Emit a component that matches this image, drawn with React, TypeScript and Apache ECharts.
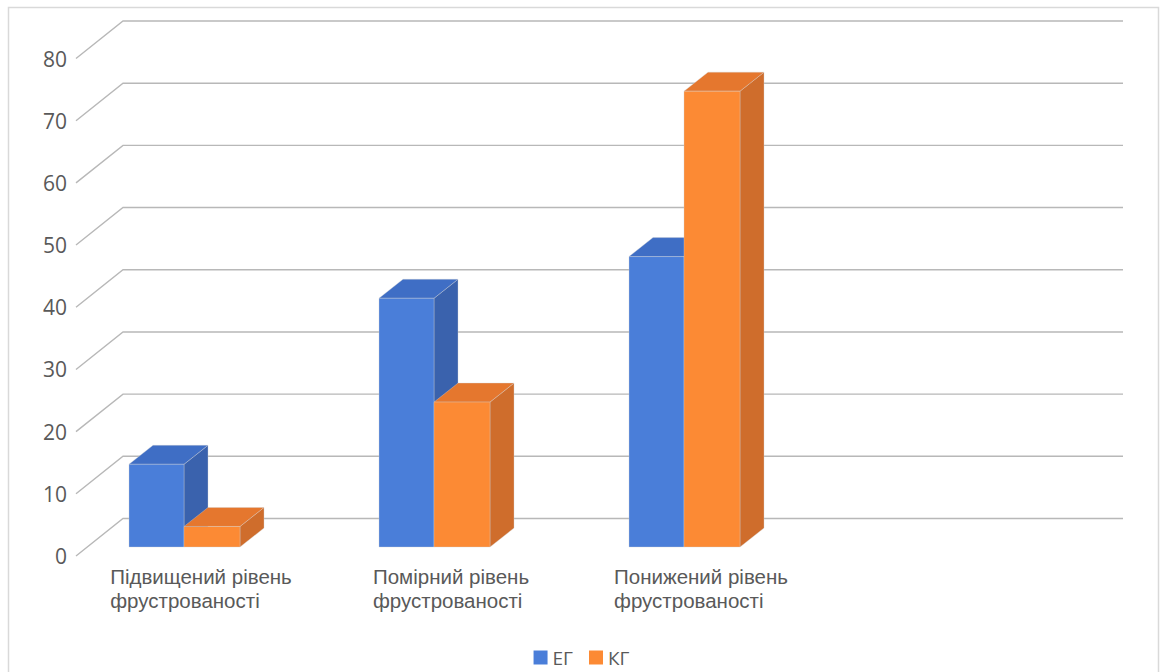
import React, { useEffect, useRef } from "react";
import * as echarts from "echarts";

// Chart data
const categories = [
  "Підвищений рівень\nфрустрованості",
  "Помірний рівень\nфрустрованості",
  "Понижений рівень\nфрустрованості",
  "",
];
const seriesNames = ["ЕГ", "КГ"];
const egValues = [13.3, 40, 46.7];
const kgValues = [3.3, 23.3, 73.3];
const yTicks = [0, 10, 20, 30, 40, 50, 60, 70, 80];

// Styling of the pseudo-3D look
const FONT = "'Open Sans', 'Noto Sans', sans-serif";
const LABEL_FONT = "'Liberation Sans', 'Open Sans', sans-serif";
const TEXT_COLOR = "#595959";
const WALL_DX = 47; // depth of the back wall
const WALL_DY = 37.5;
const BAR_PLANE_DY = 9; // bars' front face offset above the floor front edge
const BAR_DX = 24; // bar depth
const BAR_DY = 19;

const BLUE = { front: "#4a7ed9", top: "#3f6ec5", side: "#3a62ad" };
const ORANGE = { front: "#fc8a34", top: "#e5772e", side: "#cf6d2c" };

function barRenderer(xShift: number, width: number, c: { front: string; top: string; side: string }) {
  return (params: any, api: any) => {
    const idx = api.value(0);
    const v = api.value(1);
    const base = api.coord([idx, 0]);
    const topPt = api.coord([idx, v]);
    const x0 = base[0] + xShift;
    const x1 = x0 + width;
    const yb = base[1] - BAR_PLANE_DY;
    const yt = topPt[1] - BAR_PLANE_DY;
    const edge = { stroke: "rgba(210,210,210,0.6)", lineWidth: 0.6 };
    return {
      type: "group",
      children: [
        {
          type: "polygon",
          shape: { points: [[x1, yt], [x1 + BAR_DX, yt - BAR_DY], [x1 + BAR_DX, yb - BAR_DY], [x1, yb]] },
          style: { fill: c.side, ...edge },
        },
        {
          type: "polygon",
          shape: { points: [[x0, yt], [x0 + BAR_DX, yt - BAR_DY], [x1 + BAR_DX, yt - BAR_DY], [x1, yt]] },
          style: { fill: c.top, ...edge },
        },
        {
          type: "rect",
          shape: { x: x0, y: yt, width: x1 - x0, height: yb - yt },
          style: { fill: c.front, ...edge },
        },
      ],
    };
  };
}

// Gridlines: a slanted segment on the side wall, then the back wall line
function gridRenderer(params: any, api: any) {
  const v = api.value(1);
  const p = api.coord([0, v]);
  const cs = params.coordSys;
  const x0 = cs.x;
  const y = p[1];
  return {
    type: "polyline",
    shape: {
      points: [
        [x0, y],
        [x0 + WALL_DX, y - WALL_DY],
        [x0 + cs.width + WALL_DX, y - WALL_DY],
      ],
    },
    style: { stroke: "#b8b8b8", lineWidth: 1.4, fill: "none" },
    silent: true,
  };
}

export default function App() {
  const ref = useRef<HTMLDivElement>(null);

  useEffect(() => {
    if (!ref.current) return;
    const chart = echarts.init(ref.current, undefined, { renderer: "svg" });
    chart.setOption({
      animation: false,
      backgroundColor: "#ffffff",
      textStyle: { fontFamily: FONT },
      graphic: [
        {
          type: "rect",
          shape: { x: 8.5, y: 7.5, width: 1150, height: 700 },
          style: { fill: "none", stroke: "#d9d9d9", lineWidth: 1.5 },
          silent: true,
        },
      ],
      grid: { left: 76, right: 87, top: 58.5, height: 497.5, containLabel: false },
      legend: {
        data: seriesNames,
        left: "center",
        top: 643,
        icon: "rect",
        itemWidth: 14,
        itemHeight: 14,
        itemGap: 16,
        textStyle: { fontSize: 19, color: TEXT_COLOR, fontFamily: FONT },
        selectedMode: false,
      },
      xAxis: {
        type: "category",
        data: categories,
        axisLine: { show: false },
        axisTick: { show: false },
        splitLine: { show: false },
        axisLabel: {
          interval: 0,
          margin: 9,
          align: "center",
          formatter: (v: string) =>
            v ? v.split("\n").map((s) => `{a|${s}}`).join("\n") : "",
          rich: {
            a: { align: "left", fontSize: 20.5, lineHeight: 23.6, color: TEXT_COLOR, fontFamily: LABEL_FONT },
          },
        },
      },
      yAxis: {
        type: "value",
        min: 0,
        max: 80,
        interval: 10,
        axisLine: { show: false },
        axisTick: { show: false },
        splitLine: { show: false },
        axisLabel: {
          margin: 9,
          fontSize: 21,
          color: TEXT_COLOR,
          fontFamily: FONT,
          padding: [0, 0, 7, 0],
        },
      },
      series: [
        {
          type: "custom",
          name: "grid",
          silent: true,
          renderItem: gridRenderer,
          encode: { x: 0, y: 1 },
          data: yTicks.map((v) => [0, v]),
          z: 1,
        },
        {
          type: "custom",
          name: seriesNames[0],
          renderItem: barRenderer(-72, 55, BLUE),
          itemStyle: { color: BLUE.front },
          encode: { x: 0, y: 1 },
          data: egValues.map((v, i) => [i, v]),
          z: 2,
        },
        {
          type: "custom",
          name: seriesNames[1],
          renderItem: barRenderer(-17, 56, ORANGE),
          itemStyle: { color: ORANGE.front },
          encode: { x: 0, y: 1 },
          data: kgValues.map((v, i) => [i, v]),
          z: 3,
        },
      ],
    });
    return () => chart.dispose();
  }, []);

  return (
    <div
      ref={ref}
      style={{ position: "absolute", left: 0, top: 0, width: 1163, height: 672, background: "#fff" }}
    />
  );
}
